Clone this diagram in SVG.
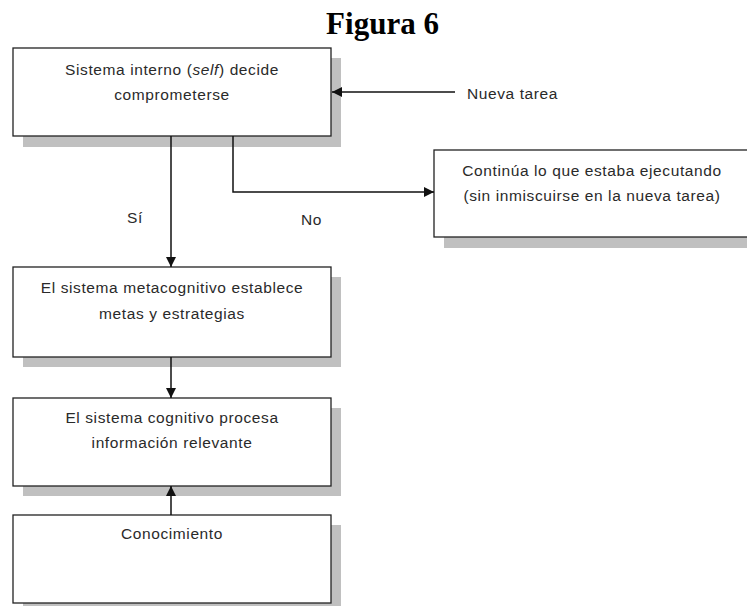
<svg xmlns="http://www.w3.org/2000/svg" width="747" height="606" viewBox="0 0 747 606">
<style>
.shadow{fill:#c0c0c0;stroke:none}
.box{fill:#fff;stroke:#222;stroke-width:1.3}
.t{font-family:"Liberation Sans",Arial,sans-serif;font-size:15.5px;letter-spacing:0.6px;fill:#2a2a2a;text-anchor:middle}
.lbl{font-family:"Liberation Sans",Arial,sans-serif;font-size:15.5px;letter-spacing:0.6px;fill:#2a2a2a}
.title{font-family:"Liberation Serif","Times New Roman",serif;font-size:31px;font-weight:bold;fill:#000;text-anchor:middle}
.c{fill:none;stroke:#111;stroke-width:1.5}
</style>
<defs>
<marker id="arr" viewBox="0 0 10 10" refX="10" refY="5" markerWidth="10" markerHeight="10" markerUnits="userSpaceOnUse" orient="auto">
<path d="M0,0 L10,5 L0,10 Z" fill="#111"/>
</marker>
</defs>
<rect width="747" height="606" fill="#fff"/>
<text class="title" x="382.5" y="34">Figura 6</text>

<g id="node-self">
<rect class="shadow" x="23" y="58" width="318" height="89"/>
<rect class="box" x="13" y="48" width="318" height="88"/>
<text class="t" x="172" y="75">Sistema interno (<tspan font-style="italic">self</tspan>) decide</text>
<text class="t" x="172" y="100">comprometerse</text>
</g>

<g id="node-continua">
<rect class="shadow" x="444" y="160" width="313" height="88"/>
<rect class="box" x="434" y="150" width="320" height="87"/>
<text class="t" x="592" y="176">Continúa lo que estaba ejecutando</text>
<text class="t" x="592" y="201">(sin inmiscuirse en la nueva tarea)</text>
</g>

<g id="node-metacog">
<rect class="shadow" x="23" y="277" width="318" height="90"/>
<rect class="box" x="13" y="267" width="318" height="90"/>
<text class="t" x="172" y="293">El sistema metacognitivo establece</text>
<text class="t" x="172" y="319">metas y estrategias</text>
</g>

<g id="node-cognitivo">
<rect class="shadow" x="23" y="408" width="318" height="88"/>
<rect class="box" x="13" y="398" width="318" height="88"/>
<text class="t" x="172" y="423">El sistema cognitivo procesa</text>
<text class="t" x="172" y="448">información relevante</text>
</g>

<g id="node-conocimiento">
<rect class="shadow" x="23" y="525" width="318" height="88"/>
<rect class="box" x="13" y="515" width="318" height="88"/>
<text class="t" x="172" y="539">Conocimiento</text>
</g>

<g id="connectors">
<line class="c" x1="455" y1="92" x2="332" y2="92" marker-end="url(#arr)"/>
<text class="lbl" x="467" y="99">Nueva tarea</text>
<line class="c" x1="171" y1="136" x2="171" y2="267" marker-end="url(#arr)"/>
<text class="lbl" x="127" y="223">Sí</text>
<polyline class="c" points="233,136 233,192 434,192" marker-end="url(#arr)"/>
<text class="lbl" x="301" y="225">No</text>
<line class="c" x1="171" y1="357" x2="171" y2="398" marker-end="url(#arr)"/>
<line class="c" x1="171" y1="515" x2="171" y2="486" marker-end="url(#arr)"/>
</g>
</svg>
